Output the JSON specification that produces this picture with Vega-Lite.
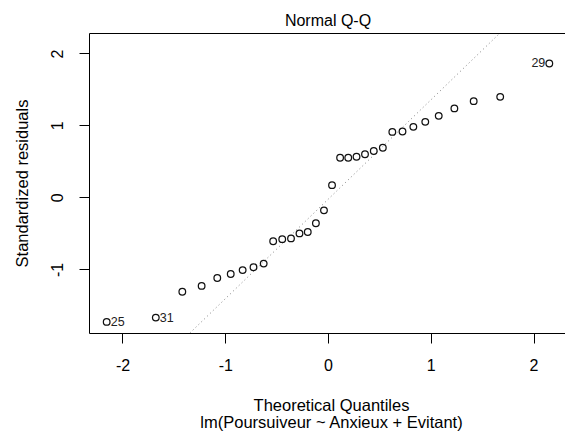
{
  "$schema": "https://vega.github.io/schema/vega-lite/v6.json",
  "width": 478,
  "height": 300,
  "autosize": {"type": "none"},
  "padding": {"left": 89, "top": 33, "right": 0, "bottom": 108},
  "background": "white",
  "config": {
    "font": "Liberation Sans",
    "view": {"stroke": "black", "strokeWidth": 1}
  },
  "title": {
    "text": "Normal Q-Q",
    "fontSize": 16,
    "fontWeight": "normal",
    "color": "black",
    "anchor": "middle",
    "baseline": "alphabetic",
    "offset": -9
  },
  "datasets": {
    "pts": [
      {"q": -2.1539, "r": -1.73, "id": "25", "side": "L"},
      {"q": -1.6759, "r": -1.67, "id": "31", "side": "L"},
      {"q": -1.4178, "r": -1.31, "id": "", "side": ""},
      {"q": -1.2299, "r": -1.23, "id": "", "side": ""},
      {"q": -1.0776, "r": -1.12, "id": "", "side": ""},
      {"q": -0.9467, "r": -1.065, "id": "", "side": ""},
      {"q": -0.8307, "r": -1.01, "id": "", "side": ""},
      {"q": -0.7250, "r": -0.97, "id": "", "side": ""},
      {"q": -0.6260, "r": -0.92, "id": "", "side": ""},
      {"q": -0.5336, "r": -0.61, "id": "", "side": ""},
      {"q": -0.4454, "r": -0.58, "id": "", "side": ""},
      {"q": -0.3601, "r": -0.57, "id": "", "side": ""},
      {"q": -0.2776, "r": -0.50, "id": "", "side": ""},
      {"q": -0.1970, "r": -0.48, "id": "", "side": ""},
      {"q": -0.1178, "r": -0.36, "id": "", "side": ""},
      {"q": -0.0392, "r": -0.18, "id": "", "side": ""},
      {"q": 0.0392, "r": 0.17, "id": "", "side": ""},
      {"q": 0.1178, "r": 0.55, "id": "", "side": ""},
      {"q": 0.1970, "r": 0.55, "id": "", "side": ""},
      {"q": 0.2776, "r": 0.565, "id": "", "side": ""},
      {"q": 0.3601, "r": 0.60, "id": "", "side": ""},
      {"q": 0.4454, "r": 0.645, "id": "", "side": ""},
      {"q": 0.5336, "r": 0.69, "id": "", "side": ""},
      {"q": 0.6260, "r": 0.91, "id": "", "side": ""},
      {"q": 0.7250, "r": 0.915, "id": "", "side": ""},
      {"q": 0.8307, "r": 0.98, "id": "", "side": ""},
      {"q": 0.9467, "r": 1.05, "id": "", "side": ""},
      {"q": 1.0776, "r": 1.133, "id": "", "side": ""},
      {"q": 1.2299, "r": 1.236, "id": "", "side": ""},
      {"q": 1.4178, "r": 1.337, "id": "", "side": ""},
      {"q": 1.6759, "r": 1.397, "id": "", "side": ""},
      {"q": 2.1539, "r": 1.861, "id": "29", "side": "R"}
    ],
    "ref": [
      {"q": -1.344, "r": -1.884},
      {"q": 1.674, "r": 2.284}
    ]
  },
  "layer": [
    {
      "data": {"name": "ref"},
      "mark": {"type": "line", "color": "#808080", "strokeWidth": 1, "strokeDash": [1, 3], "clip": true},
      "encoding": {
        "x": {"field": "q", "type": "quantitative"},
        "y": {"field": "r", "type": "quantitative"}
      }
    },
    {
      "data": {"name": "pts"},
      "mark": {"type": "point", "shape": "circle", "filled": false, "stroke": "#111111", "strokeWidth": 1.25, "size": 44, "opacity": 1},
      "encoding": {
        "x": {
          "field": "q",
          "type": "quantitative",
          "scale": {"domain": [-2.326, 2.326], "nice": false, "zero": false},
          "axis": {
            "title": ["Theoretical Quantiles", "lm(Poursuiveur ~ Anxieux + Evitant)"],
            "values": [-2, -1, 0, 1, 2],
            "labelExpr": "'' + datum.value",
            "grid": false,
            "domain": false,
            "tickSize": 10,
            "tickColor": "black",
            "labelFontSize": 16,
            "labelColor": "black",
            "labelPadding": 27,
            "labelBaseline": "alphabetic",
            "labelFlush": false,
            "labelOverlap": false,
            "titleFontSize": 16.5,
            "titleFontWeight": "normal",
            "titleColor": "black",
            "titleBaseline": "alphabetic",
            "titleLineHeight": 17,
            "titleY": 77,
            "titleX": 242
          }
        },
        "y": {
          "field": "r",
          "type": "quantitative",
          "scale": {"domain": [-1.884, 2.284], "nice": false, "zero": false},
          "axis": {
            "title": "Standardized residuals",
            "values": [-1, 0, 1, 2],
            "labelExpr": "'' + datum.value",
            "grid": false,
            "domain": false,
            "tickSize": 10,
            "tickColor": "black",
            "labelFontSize": 16,
            "labelColor": "black",
            "labelAngle": -90,
            "labelAlign": "center",
            "labelBaseline": "alphabetic",
            "labelPadding": 17,
            "labelFlush": false,
            "labelOverlap": false,
            "titleFontSize": 16.5,
            "titleFontWeight": "normal",
            "titleColor": "black",
            "titleAngle": -90,
            "titleAlign": "center",
            "titleBaseline": "alphabetic",
            "titleX": -62,
            "titleY": 150
          }
        }
      }
    },
    {
      "data": {"name": "pts"},
      "transform": [{"filter": "datum.side == 'L'"}],
      "mark": {"type": "text", "align": "left", "baseline": "middle", "dx": 4, "fontSize": 12.5, "color": "#222222"},
      "encoding": {
        "x": {"field": "q", "type": "quantitative"},
        "y": {"field": "r", "type": "quantitative"},
        "text": {"field": "id"}
      }
    },
    {
      "data": {"name": "pts"},
      "transform": [{"filter": "datum.side == 'R'"}],
      "mark": {"type": "text", "align": "right", "baseline": "middle", "dx": -4, "fontSize": 12.5, "color": "#222222"},
      "encoding": {
        "x": {"field": "q", "type": "quantitative"},
        "y": {"field": "r", "type": "quantitative"},
        "text": {"field": "id"}
      }
    }
  ]
}
